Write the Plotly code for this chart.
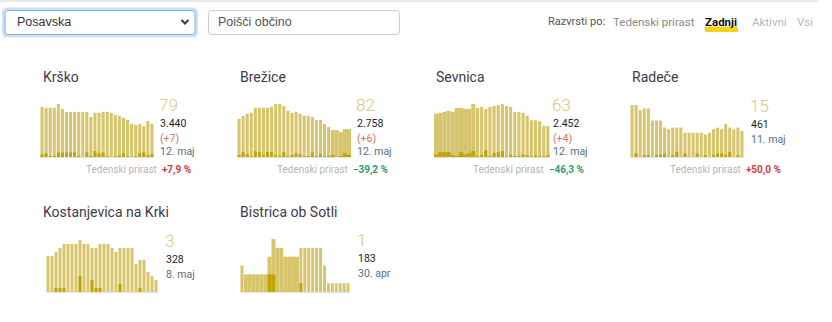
import plotly.graph_objects as go

W, H = 832, 322

# ---------------- data ----------------
names = ["Krško", "Brežice", "Sevnica", "Radeče", "Kostanjevica na Krki", "Bistrica ob Sotli"]
latest = ["79", "82", "63", "15", "3", "1"]
totals = ["3.440", "2.758", "2.452", "461", "328", "183"]
changes = ["(+7)", "(+6)", "(+4)", None, None, None]
dates = ["12. maj", "12. maj", "12. maj", "11. maj", "8. maj", "30. apr"]
weekly = ["+7,9 %", "−39,2 %", "−46,3 %", "+50,0 %", None, None]
weekly_up = [True, False, False, True, None, None]

krsko_active = [120, 118, 118, 118, 127, 115, 108, 108, 108, 108, 108, 108, 96, 106,
                106, 108, 108, 106, 101, 98, 94, 89, 79, 77, 79, 74, 86, 79]
krsko_new = [6, 9, 2, 2, 11, 11, 11, 11, 11, 2, 0, 11, 2, 14, 9, 11, 2, 0, 2, 4, 9, 2, 0, 2, 9, 11, 4, 7]

brezice_active = [112, 121, 127, 130, 145, 145, 145, 145, 148, 156, 156, 150, 136, 130,
                  133, 127, 121, 121, 118, 109, 109, 97, 88, 79, 79, 73, 82, 82]
brezice_new = [5, 14, 8, 2, 17, 14, 5, 14, 14, 5, 2, 14, 2, 5, 11, 8, 2, 2, 14, 2, 8, 2, 2, 5, 0, 2, 11, 6]

sevnica_active = [88, 90, 92, 94, 92, 100, 100, 98, 98, 108, 100, 102, 98, 102,
                  104, 106, 108, 104, 102, 92, 92, 90, 84, 75, 75, 73, 63, 63]
sevnica_new = [5, 10, 10, 10, 3, 1, 10, 5, 8, 12, 1, 3, 14, 1, 8, 10, 12, 1, 5, 1, 1, 5, 3, 1, 3, 1, 1, 4]

radece_active = [30, 30, 27, 28, 28, 21, 21, 21, 17, 16, 17, 17, 17, 14,
                 14, 14, 14, 14, 13, 14, 16, 17, 16, 19, 17, 16, 17, 15]
radece_new = [0, 2, 0, 1, 1, 0, 1, 1, 2, 0, 1, 3, 0, 2, 0, 0, 2, 0, 1, 0, 1, 2, 2, 1, 3, 0, 1, 0]

kostanjevica_active = [9, 9, 10, 11, 12, 12, 12, 12, 13, 12, 12, 11, 11, 12,
                       12, 12, 11, 10, 11, 11, 11, 11, 7, 8, 8, 5, 4, 3]
kostanjevica_new = [0, 0, 1, 1, 1, 0, 0, 0, 4, 0, 0, 3, 1, 1, 0, 0, 0, 0, 2, 0, 0, 0, 0, 1, 0, 0, 0, 0]

bistrica_active = [3, 2, 2, 2, 2, 2, 2, 4, 6, 5, 5, 4, 4, 4,
                   4, 5, 5, 5, 5, 5, 5, 3, 1, 1, 1, 1, 1, 1]
bistrica_new = [0, 0, 0, 0, 0, 0, 0, 2, 2, 0, 0, 0, 0, 0, 0, 1, 0, 0, 0, 0, 0, 0, 0, 0, 0, 0, 0, 0]

active_series = [krsko_active, brezice_active, sevnica_active, radece_active,
                 kostanjevica_active, bistrica_active]
new_series = [krsko_new, brezice_new, sevnica_new, radece_new, kostanjevica_new, bistrica_new]

sort_labels = ["Tedenski prirast", "Zadnji", "Aktivni", "Vsi"]

# ---------------- layout / style (pixels) ----------------
panels = [
    dict(bx=(40, 154), by=(104, 157), tx=158, title=(41, 77), right=193),
    dict(bx=(237, 351), by=(104, 157), tx=355, title=(238, 77), right=390),
    dict(bx=(434, 550), by=(104, 157), tx=551, title=(434, 77), right=586),
    dict(bx=(630, 744), by=(105, 157), tx=749, title=(630, 77), right=783),
    dict(bx=(46, 158), by=(240, 292), tx=164, title=(41, 212), right=200),
    dict(bx=(240, 350), by=(239, 292), tx=356, title=(238, 212), right=390),
]
gapless = [[], [(23, 27)], [(0, 9)], [], [], [(1, 14)]]

LIGHT = "#d6c56c"
DARK = "#c2a405"
FONT = "Roboto, 'Noto Sans', sans-serif"
HFONT = "'Liberation Sans', Arial, sans-serif"


def px(x):
    return x / W


def py(y):
    return 1 - y / H


fig = go.Figure()
layout = dict(
    width=W, height=H, margin=dict(l=0, r=0, t=0, b=0),
    paper_bgcolor="white", plot_bgcolor="white",
    barmode="overlay", showlegend=False,
    font=dict(family=FONT),
)
annotations = []
shapes = []

for i, p in enumerate(panels):
    k = i + 1
    xa = "x" if k == 1 else f"x{k}"
    ya = "y" if k == 1 else f"y{k}"
    act = active_series[i]
    new = new_series[i]
    n = len(act)
    xs = list(range(n))
    widths = [0.75] * n
    for a, b in gapless[i]:
        for j in range(a, b + 1):
            widths[j] = 1.0
    fig.add_trace(go.Bar(x=xs, y=act, width=widths, marker=dict(color=LIGHT, line=dict(width=0)),
                         xaxis=xa, yaxis=ya, hoverinfo="skip"))
    fig.add_trace(go.Bar(x=xs, y=new, width=widths, marker=dict(color=DARK, line=dict(width=0)),
                         xaxis=xa, yaxis=ya, hoverinfo="skip"))
    xk = "xaxis" if k == 1 else f"xaxis{k}"
    yk = "yaxis" if k == 1 else f"yaxis{k}"
    layout[xk] = dict(domain=[px(p["bx"][0]), px(p["bx"][1])], anchor=ya, range=[-0.5, n - 0.5],
                      showticklabels=False, ticks="", showgrid=False, zeroline=False,
                      showline=True, linecolor="#e4e4e4", linewidth=1, fixedrange=True)
    layout[yk] = dict(domain=[py(p["by"][1]), py(p["by"][0])], anchor=xa, range=[0, max(act)],
                      showticklabels=False, ticks="", showgrid=False, zeroline=False,
                      showline=False, fixedrange=True)

    annotations.append(dict(x=px(p["title"][0]), y=py(p["title"][1]), xref="paper", yref="paper",
                            text=names[i], showarrow=False, xanchor="left", yanchor="middle",
                            font=dict(size=14, color="#3b3b4b", family=FONT)))
    base = p["by"][0]
    annotations.append(dict(x=px(p["tx"] - 1), y=py(base + 1), xref="paper", yref="paper",
                            text=latest[i], showarrow=False, xanchor="left", yanchor="middle",
                            font=dict(size=17, color="#d8c777", family=FONT, weight=300)))
    yline = base + 19
    annotations.append(dict(x=px(p["tx"]), y=py(yline), xref="paper", yref="paper",
                            text=totals[i], showarrow=False, xanchor="left", yanchor="middle",
                            font=dict(size=10.5, color="#1e1e1e", family=FONT)))
    yline += 15.5
    if changes[i]:
        annotations.append(dict(x=px(p["tx"]), y=py(yline), xref="paper", yref="paper",
                                text=changes[i], showarrow=False, xanchor="left", yanchor="middle",
                                font=dict(size=10.5, color="#d9725f", family=FONT)))
        yline += 12.5
    annotations.append(dict(x=px(p["tx"]), y=py(yline), xref="paper", yref="paper",
                            text=dates[i], showarrow=False, xanchor="left", yanchor="middle",
                            font=dict(size=10.5, color="#5a6d80", family=FONT)))
    if weekly[i]:
        col = "#cf3b3f" if weekly_up[i] else "#2aa06d"
        txt = (f"<span style='color:#b5b5b5'>Tedenski prirast</span>  "
               f"<b><span style='color:{col}'>{weekly[i]}</span></b>")
        annotations.append(dict(x=px(p["right"]), y=py(170), xref="paper", yref="paper",
                                text=txt, showarrow=False, xanchor="right", yanchor="middle",
                                font=dict(size=10, family=FONT)))


def rrect(x0, y0, x1, y1, r):
    X = px
    Y = py
    return (f"M {X(x0 + r)},{Y(y0)} L {X(x1 - r)},{Y(y0)} Q {X(x1)},{Y(y0)} {X(x1)},{Y(y0 + r)} "
            f"L {X(x1)},{Y(y1 - r)} Q {X(x1)},{Y(y1)} {X(x1 - r)},{Y(y1)} "
            f"L {X(x0 + r)},{Y(y1)} Q {X(x0)},{Y(y1)} {X(x0)},{Y(y1 - r)} "
            f"L {X(x0)},{Y(y0 + r)} Q {X(x0)},{Y(y0)} {X(x0 + r)},{Y(y0)} Z")


shapes.append(dict(type="line", xref="paper", yref="paper", x0=0, x1=px(818), y0=py(1), y1=py(1),
                   line=dict(color="#e2e2e2", width=1.5)))
shapes.append(dict(type="path", xref="paper", yref="paper", path=rrect(3.5, 9, 196.5, 36, 4),
                   line=dict(color="#cfe1f6", width=3), fillcolor="white"))
shapes.append(dict(type="path", xref="paper", yref="paper", path=rrect(5, 10.5, 195, 34.5, 3),
                   line=dict(color="#7fb0e6", width=1), fillcolor="white"))
shapes.append(dict(type="path", xref="paper", yref="paper",
                   path=f"M {px(181.5)},{py(20)} L {px(185)},{py(23.5)} L {px(188.5)},{py(20)}",
                   line=dict(color="#3a3a3a", width=2)))
shapes.append(dict(type="path", xref="paper", yref="paper", path=rrect(208.5, 10.5, 399.5, 34.5, 3),
                   line=dict(color="#cccccc", width=1), fillcolor="white"))
shapes.append(dict(type="rect", xref="paper", yref="paper", x0=px(705), x1=px(738),
                   y0=py(32), y1=py(26.5), line=dict(width=0), fillcolor="#f6d31b", layer="below"))

annotations.append(dict(x=px(15), y=py(22.5), xref="paper", yref="paper", text="Posavska",
                        showarrow=False, xanchor="left", yanchor="middle",
                        font=dict(size=12.5, color="#333333", family=HFONT)))
annotations.append(dict(x=px(216), y=py(22.5), xref="paper", yref="paper", text="Poišči občino",
                        showarrow=False, xanchor="left", yanchor="middle",
                        font=dict(size=12.5, color="#555555", family=HFONT)))
annotations.append(dict(x=px(607), y=py(21.5), xref="paper", yref="paper", text="Razvrsti po:",
                        showarrow=False, xanchor="right", yanchor="middle",
                        font=dict(size=11, color="#555555", family=FONT)))
sort_x = [611, 703, 750, 795]
sort_col = ["#8a8a8a", "#111111", "#b3b8be", "#b3b8be"]
for lbl, sx, sc in zip(sort_labels, sort_x, sort_col):
    t = f"<b>{lbl}</b>" if lbl == "Zadnji" else lbl
    annotations.append(dict(x=px(sx), y=py(21.5), xref="paper", yref="paper", text=t,
                            showarrow=False, xanchor="left", yanchor="middle",
                            font=dict(size=11.5, color=sc, family=FONT)))

layout["annotations"] = annotations
layout["shapes"] = shapes
fig.update_layout(**layout)
fig.write_html("out.html")
